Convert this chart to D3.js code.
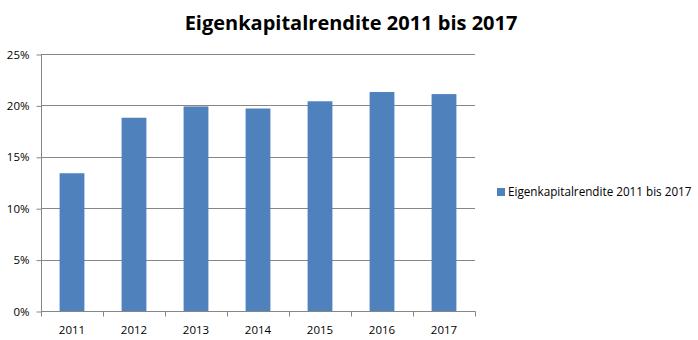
<!DOCTYPE html>
<html>
<head>
<meta charset="utf-8">
<script src="https://cdn.jsdelivr.net/npm/d3@7"></script>
<style>
  body { margin: 0; background: #fff; }
  text { font-family: "Open Sans", "Liberation Sans", sans-serif; }
</style>
</head>
<body>
<svg id="chart" width="698" height="340"></svg>
<script>
// Return on equity per year
const years = ["2011", "2012", "2013", "2014", "2015", "2016", "2017"];
const returnOnEquity = [0.134, 0.188, 0.199, 0.197, 0.204, 0.213, 0.211];
const yTicks = [0, 0.05, 0.10, 0.15, 0.20, 0.25];
const seriesName = "Eigenkapitalrendite 2011 bis 2017";
const chartTitle = "Eigenkapitalrendite 2011 bis 2017";

const svg = d3.select("#chart");
const plotLeft = 41, plotRight = 475, plotTop = 54, plotBottom = 311;
const barColor = "#4F81BD";
const gridColor = "#868686";

const x = d3.scaleBand().domain(years).range([plotLeft, plotRight]).paddingInner(0.6).paddingOuter(0.3);
const xTicks = d3.scaleBand().domain(years).range([plotLeft, plotRight]);
const y = d3.scaleLinear().domain([0, 0.25]).range([plotBottom, plotTop]);

// Title
svg.append("text")
  .attr("x", 351).attr("y", 30)
  .attr("text-anchor", "middle")
  .attr("font-size", 20).attr("font-weight", "bold")
  .attr("fill", "#000")
  .text(chartTitle);

// Horizontal gridlines
svg.append("g").selectAll("line").data(yTicks.slice(1)).join("line")
  .attr("x1", plotLeft).attr("x2", plotRight)
  .attr("y1", d => Math.round(y(d)) + 0.5).attr("y2", d => Math.round(y(d)) + 0.5)
  .attr("stroke", gridColor).attr("stroke-width", 1);

// Bars
svg.append("g").selectAll("rect").data(returnOnEquity).join("rect")
  .attr("x", (d, i) => x(years[i]))
  .attr("width", x.bandwidth())
  .attr("y", d => y(d))
  .attr("height", d => y(0) - y(d))
  .attr("fill", barColor);

// Y axis
const yAxis = d3.axisLeft(y).tickValues(yTicks).tickFormat(d3.format(".0%")).tickSize(5).tickPadding(7);
const gy = svg.append("g").attr("transform", `translate(${plotLeft + 0.5},0.5)`).call(yAxis);
gy.select(".domain").attr("stroke", gridColor).attr("d", `M0,${plotTop}V${plotBottom}`);
gy.selectAll(".tick line").attr("stroke", gridColor);
gy.selectAll(".tick text").attr("font-size", 11.5).attr("fill", "#000")
  .attr("font-family", "'Open Sans', 'Liberation Sans', sans-serif");

// X axis: tick marks sit on category boundaries
const gx = svg.append("g").attr("transform", `translate(0,${plotBottom + 0.5})`);
gx.append("line").attr("x1", plotLeft).attr("x2", plotRight + 0.5).attr("stroke", gridColor);
const bounds = years.map(d => xTicks(d)).concat([plotRight]);
gx.selectAll("line.tick").data(bounds).join("line").attr("class", "tick")
  .attr("x1", d => Math.round(d) + 0.5).attr("x2", d => Math.round(d) + 0.5)
  .attr("y1", 0).attr("y2", 5).attr("stroke", gridColor);
gx.selectAll("text").data(years).join("text")
  .attr("x", d => xTicks(d) + xTicks.bandwidth() / 2)
  .attr("y", 22)
  .attr("text-anchor", "middle")
  .attr("font-size", 11.5).attr("fill", "#000")
  .text(d => d);

// Legend
const lg = svg.append("g").attr("transform", "translate(497,188)");
lg.append("rect").attr("width", 8).attr("height", 8).attr("fill", barColor);
lg.append("text").attr("x", 11).attr("y", 8).attr("font-size", 11.7).attr("fill", "#000").text(seriesName);
</script>
</body>
</html>
